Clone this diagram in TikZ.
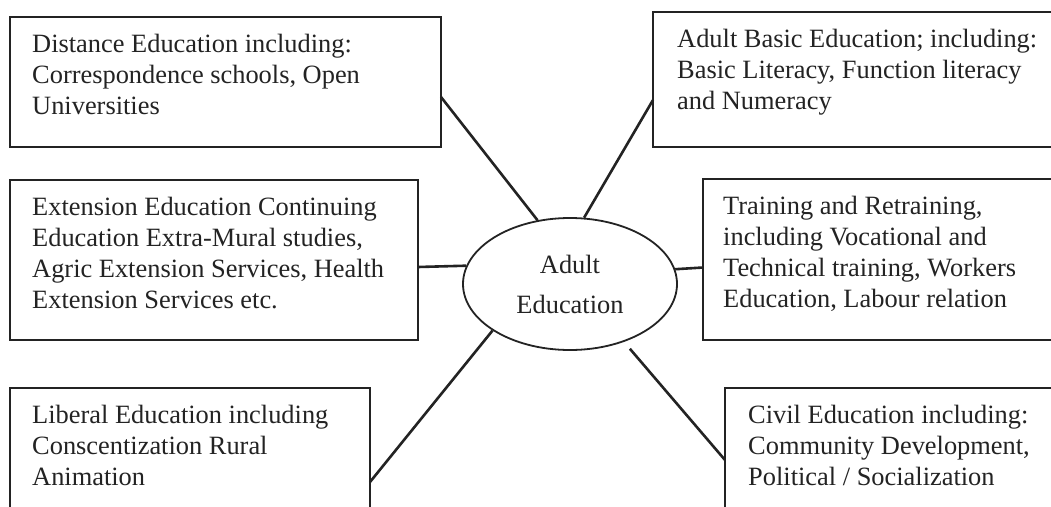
\documentclass[tikz,border=0pt]{standalone}
\usepackage{fontspec}
\setmainfont{Liberation Serif}
\usetikzlibrary{calc,shapes.geometric}
\definecolor{ink}{RGB}{35,35,35}
\tikzset{
  box/.style={draw=ink, line width=2.2pt, anchor=north west, inner sep=0pt, outer sep=0pt},
  txt/.style={anchor=north west, align=left, inner sep=0pt, text=ink, font=\fontsize{26.4}{31}\selectfont},
  hub/.style={ellipse, draw=ink, line width=1.8pt, minimum width=214pt, minimum height=132pt, inner sep=0pt, align=center, text=ink, font=\fontsize{26.4}{40}\selectfont},
  conn/.style={draw=ink, line width=2.6pt}
}
\begin{document}
\begin{tikzpicture}[x=1pt,y=-1pt]
\useasboundingbox (0,0) rectangle (1051,506);
\fill[white] (0,0) rectangle (1051,506);
\clip (0,0) rectangle (1051,506);
% boxes
\node[box, minimum width=431pt, minimum height=130pt] (b1) at (10,17) {};
\node[box, minimum width=410pt, minimum height=135pt] (b2) at (653,12) {};
\node[box, minimum width=408pt, minimum height=160pt] (b3) at (10,180) {};
\node[box, minimum width=360pt, minimum height=161pt] (b4) at (703,179) {};
\node[box, minimum width=360pt, minimum height=130pt] (b5) at (10,388) {};
\node[box, minimum width=340pt, minimum height=130pt] (b6) at (725,388) {};
% texts
\node[txt] (t1) at ($(b1.north west)+(22,17)$) {Distance Education including:\\Correspondence schools, Open\\Universities};
\node[txt] (t2) at ($(b2.north west)+(24,17)$) {Adult Basic Education; including:\\Basic Literacy, Function literacy\\and Numeracy};
\node[txt] (t3) at ($(b3.north west)+(22,17)$) {Extension Education Continuing\\Education Extra-Mural studies,\\Agric Extension Services, Health\\Extension Services etc.};
\node[txt] (t4) at ($(b4.north west)+(20,17)$) {Training and Retraining,\\including Vocational and\\Technical training, Workers\\Education, Labour relation};
\node[txt] (t5) at ($(b5.north west)+(22,17)$) {Liberal Education including\\Conscentization Rural\\Animation};
\node[txt] (t6) at ($(b6.north west)+(23,17)$) {Civil Education including:\\Community Development,\\Political / Socialization};
% hub
\node[hub] (ae) at (570,284) {Adult\\Education};
% connectors
\coordinate (c1) at ($(b1.north east)+(0,80)$);
\coordinate (c2) at ($(b2.north west)+(0,88)$);
\coordinate (c3) at ($(b3.east)+(0,7)$);
\coordinate (c4) at ($(b4.west)+(0,8)$);
\coordinate (c5) at ($(b5.north east)+(0,94)$);
\coordinate (c6) at ($(b6.north west)+(0,72)$);
\draw[conn] (c1) -- (ae.117.9);
\draw[conn] (c2) -- (ae.78.9);
\draw[conn] (c3) -- (ae.170.7);
\draw[conn] (c4) -- (ae.8.8);
\draw[conn] (c5) -- (ae.211.9);
\draw[conn, shorten >=9pt] (c6) -- (ae.313.5);
\end{tikzpicture}
\end{document}
